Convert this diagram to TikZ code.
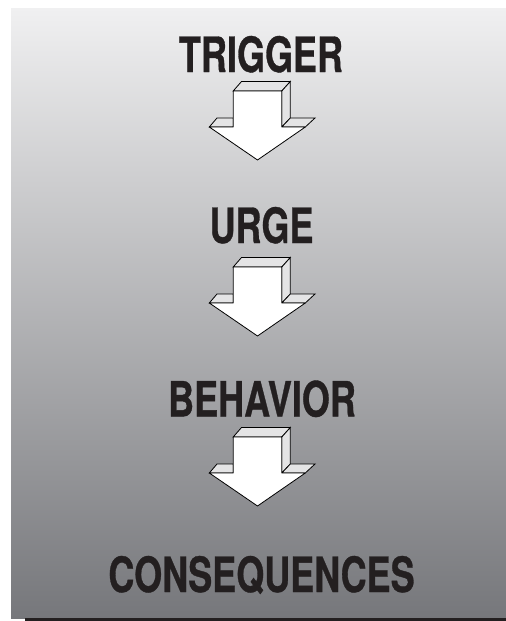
\documentclass[tikz,border=0pt]{standalone}
\usepackage{fontspec}
\setmainfont{TeX Gyre Heros}
\newfontfamily\stagefont{TeX Gyre Heros}[BoldFeatures={FakeBold=0.8}]
\usepackage{tikz}
\usetikzlibrary{positioning}
\definecolor{InkDark}{HTML}{231F20}
\definecolor{FaceGray}{HTML}{E4E4E5}
\definecolor{ShadeTop}{HTML}{F0F0F1}
\definecolor{ShadeBottom}{HTML}{76777B}

\tikzset{
  stagelabel/.style={font=\stagefont\fontsize{36.5}{40}\selectfont\bfseries, text=InkDark,
    anchor=base, inner sep=0pt, xscale=0.74, transform shape},
  blockarrow/.pic={
    % top and side faces
    \filldraw[fill=FaceGray, line width=0.6pt] (-24.3,0) -- (-16,-9.5) -- (32.8,-9.5) -- (24.3,0) -- cycle;
    \filldraw[fill=FaceGray, line width=0.6pt] (24.3,0) -- (32.8,-9.5) -- (32.8,27) -- (24.3,36) -- cycle;
    \filldraw[fill=FaceGray, line width=0.6pt] (-48.2,36) -- (-40.5,27) -- (-24.3,27) -- (-24.3,36) -- cycle;
    \filldraw[fill=FaceGray, line width=0.6pt] (24.3,36) -- (32.8,27) -- (57.5,27) -- (47.8,36) -- cycle;
    % front face
    \filldraw[fill=white, line width=0.6pt, line join=round] (-24.3,0) -- (24.3,0) -- (24.3,36) -- (47.8,36)
      -- (0,69) -- (-48.2,36) -- (-24.3,36) -- cycle;
  }
}

\begin{document}
\begin{tikzpicture}[x=0.75pt, y=-0.75pt]
  \useasboundingbox (0,0) rectangle (506,621);
  % background
  \shade[top color=ShadeTop, bottom color=ShadeBottom] (11,8) rectangle (506,618);
  \fill[InkDark] (25,618) rectangle (506,621);

  \node[stagelabel] (trigger) at (261,72) {TRIGGER};
  \node[stagelabel] (urge) at (261.5,243) {URGE};
  \node[stagelabel] (behavior) at (262,416.5) {BEHAVIOR};
  \node[stagelabel] (consequences) at (261.5,592) {CONSEQUENCES};

  \pic at (257.5,91) {blockarrow};
  \pic at (257.5,267) {blockarrow};
  \pic at (257.5,437) {blockarrow};
\end{tikzpicture}
\end{document}
